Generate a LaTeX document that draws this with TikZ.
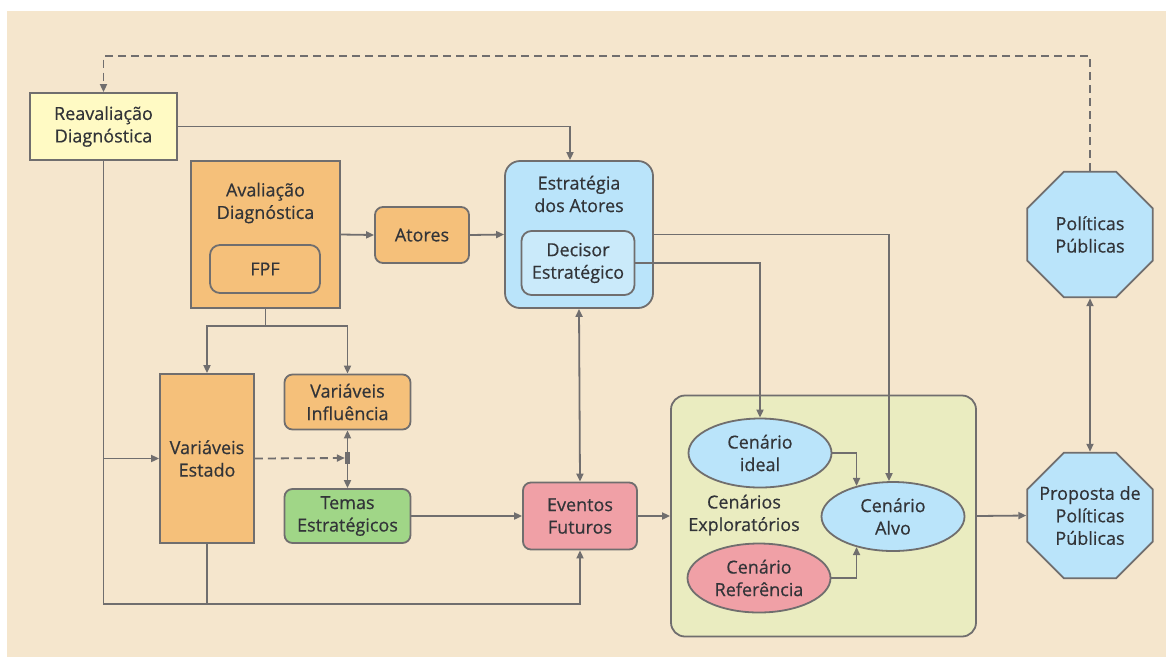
\documentclass[tikz,border=0pt]{standalone}
\usepackage{fontspec}
\setmainfont{Open Sans}[FakeBold=0.5]
\usetikzlibrary{arrows.meta,shapes.geometric}
\definecolor{fundo}{RGB}{245,230,205}
\definecolor{borda}{RGB}{112,110,110}
\definecolor{texto}{RGB}{50,52,56}
\definecolor{amarelo}{RGB}{255,250,196}
\definecolor{laranja}{RGB}{245,192,122}
\definecolor{azul}{RGB}{186,228,250}
\definecolor{azulclaro}{RGB}{202,234,250}
\definecolor{verde}{RGB}{160,214,135}
\definecolor{rosa}{RGB}{240,160,166}
\definecolor{oliva}{RGB}{234,236,192}
\begin{document}
\begin{tikzpicture}[x=1pt,y=-1pt,
    font=\fontsize{18}{22.5}\selectfont,
    caixa/.style={draw=borda,line width=1.8pt,align=center,inner sep=0pt,text=texto},
    elipse/.style={caixa,ellipse,minimum width=143pt,minimum height=69pt},
    octo/.style={caixa,regular polygon,regular polygon sides=8,minimum size=136pt,fill=azul},
    seta/.style={draw=borda,line width=1.8pt,-{Triangle[length=8pt,width=7pt]}},
    dupla/.style={seta,{Triangle[length=8pt,width=7pt]}-{Triangle[length=8pt,width=7pt]}},
    traco/.style={dash pattern=on 8pt off 5pt}]
  \useasboundingbox (0,0) rectangle (1166,657);
  \fill[fundo] (7,11) rectangle (1166,657);

  \node (reav) [caixa,fill=amarelo,minimum width=147pt,minimum height=67pt] at (103.5,126.5) {Reavaliação\\Diagnóstica};
  \node (aval) [caixa,fill=laranja,minimum width=149pt,minimum height=147pt] at (265.5,234.5) {};
  \node (avaltxt) [align=center,text=texto] at (265.5,203) {Avaliação\\Diagnóstica};
  \node (fpf) [caixa,fill=laranja,rounded corners=10pt,minimum width=110pt,minimum height=48pt] at (265,269) {FPF};
  \node (atores) [caixa,fill=laranja,rounded corners=8pt,minimum width=94pt,minimum height=56pt] at (422,235) {Atores};
  \node (estr) [caixa,fill=azul,rounded corners=15pt,minimum width=148pt,minimum height=147pt] at (579,234.5) {};
  \node (estrtxt) [align=center,text=texto] at (579,194) {Estratégia\\dos Atores};
  \node (decisor) [caixa,fill=azulclaro,rounded corners=10pt,minimum width=113pt,minimum height=64pt] at (578,263) {Decisor\\Estratégico};
  \node (vest) [caixa,fill=laranja,minimum width=94pt,minimum height=169pt] at (207,458.5) {Variáveis\\Estado};
  \node (vinf) [caixa,fill=laranja,rounded corners=8pt,minimum width=126pt,minimum height=55pt] at (347.5,402) {Variáveis\\Influência};
  \node (temas) [caixa,fill=verde,rounded corners=8pt,minimum width=126pt,minimum height=54pt] at (347.5,516) {Temas\\Estratégicos};
  \node (junc) [fill=borda,minimum width=5pt,minimum height=12pt,inner sep=0pt] at (347.5,458) {};
  \node (ev) [caixa,fill=rosa,rounded corners=8pt,minimum width=114pt,minimum height=67pt] at (580,516) {Eventos\\Futuros};
  \node (grp) [caixa,fill=oliva,rounded corners=14pt,minimum width=305pt,minimum height=241pt] at (823.5,516) {};
  \node (expl) [align=center,text=texto] at (744,515) {Cenários\\Exploratórios};
  \node (cid) [elipse,fill=azul] at (760,453) {Cenário\\ideal};
  \node (cref) [elipse,fill=rosa] at (759,578) {Cenário\\Referência};
  \node (calvo) [elipse,fill=azul] at (893,516.5) {Cenário\\Alvo};
  \node (pol) [octo,label={[align=center,text=texto]center:{Políticas\\Públicas}}] at (1090,234.5) {};
  \node (prop) [octo,label={[align=center,text=texto]center:{Proposta de\\Políticas\\Públicas}}] at (1090,515.5) {};

  \coordinate (dtop) at (0,56);
  \coordinate (bl) at (103.5,604);
  \coordinate (split) at (265.5,326);

  \draw[seta,traco] (pol.north) -- (pol.north |- dtop) -| (reav.north);
  \draw[seta] (reav.east) -| ([xshift=-9pt]estr.north);
  \draw[seta] (reav.south) -- (bl) -| (ev.south);
  \draw[seta] (reav.south |- vest.west) -- (vest.west);
  \draw[borda,line width=1.8pt] (vest.south) -- (vest.south |- bl);
  \draw[borda,line width=1.8pt] (aval.south) -- (split);
  \draw[seta] (split) -| (vest.north);
  \draw[seta] (split) -| (vinf.north);
  \draw[seta,traco] (vest.east) -- (junc.west);
  \draw[seta] (junc.north) -- (vinf.south);
  \draw[seta] (junc.south) -- (temas.north);
  \draw[seta] (temas.east) -- (ev.west);
  \draw[seta] (aval.east) -- (atores.west);
  \draw[seta] (atores.east) -- (estr.west);
  \draw[seta] (estr.east) -| ([xshift=-4pt]calvo.north);
  \draw[seta] (decisor.east) -| (cid.north);
  \draw[dupla] (estr.south) -- (ev.north);
  \draw[seta] (ev.east) -- (grp.west);
  \draw[seta] (cid.east) -| (calvo.140);
  \draw[seta] (cref.east) -| (calvo.220);
  \draw[seta] (grp.east) -- (prop.west);
  \draw[dupla] (pol.south) -- (prop.north);
\end{tikzpicture}
\end{document}
